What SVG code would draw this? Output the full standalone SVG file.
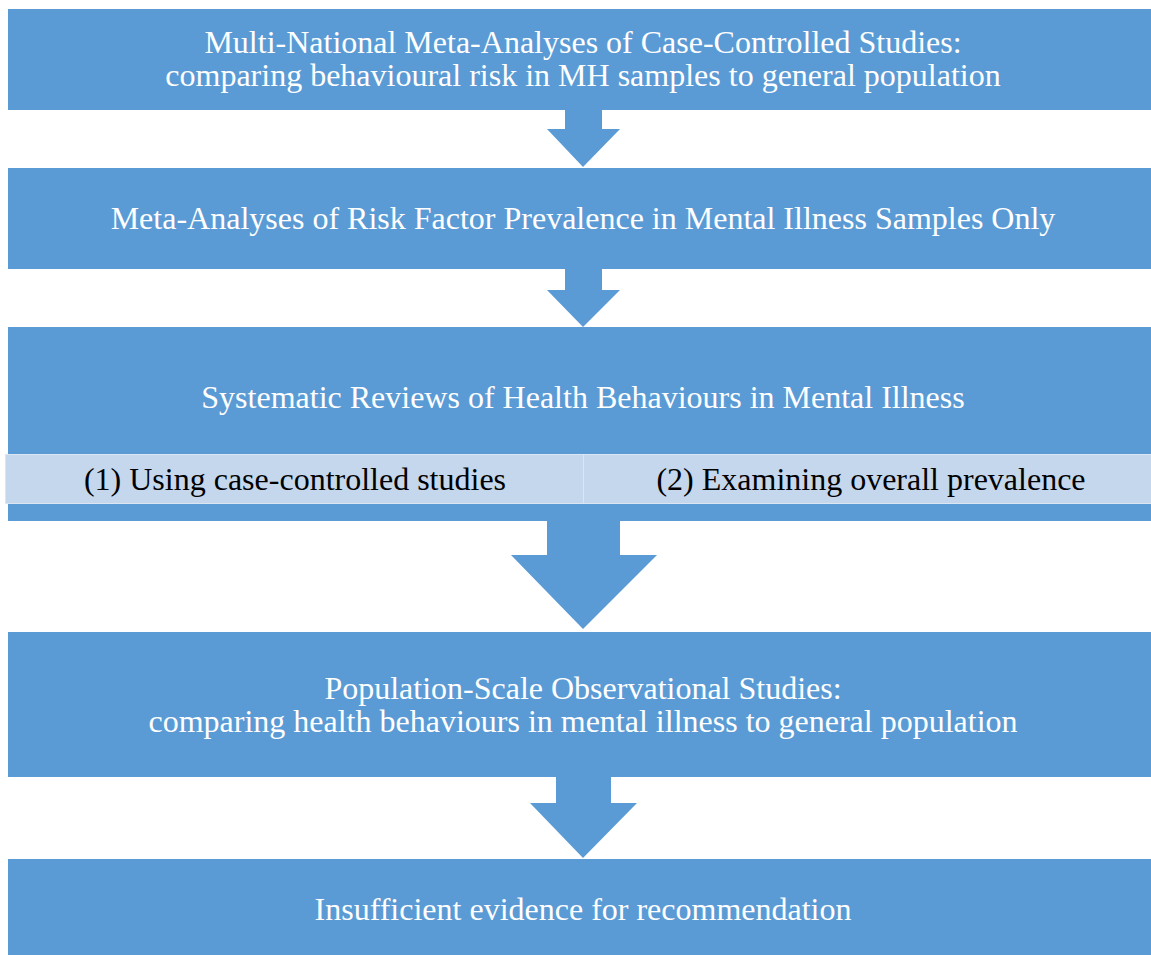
<svg xmlns="http://www.w3.org/2000/svg" width="1151" height="955" viewBox="0 0 1151 955">
<style>
.box{fill:#5B9BD5;}
.cell{fill:#C5D7EC;stroke:#DCE6F2;stroke-width:1;}
.arrow{fill:#5B9BD5;}
text{font-family:"Liberation Serif","Times New Roman",serif;font-size:32px;text-anchor:middle;}
.w{fill:#FFFFFF;}
.k{fill:#000000;}
</style>
<rect width="1151" height="955" fill="#FFFFFF"/>
<g id="connectors">
<polygon class="arrow" points="565,110 602,110 602,129 620,129 583,167 547,129 565,129"/>
<polygon class="arrow" points="565,269 602,269 602,290 620,290 583,327 547,290 565,290"/>
<polygon class="arrow" points="547,521 620,521 620,555 657,555 583,629 511,555 547,555"/>
<polygon class="arrow" points="556,777 611,777 611,803 637,803 583,858 530,803 556,803"/>
</g>
<g id="node1">
<rect class="box" x="8" y="9" width="1151" height="101"/>
<text class="w" x="583" y="53">Multi-National Meta-Analyses of Case-Controlled Studies:</text>
<text class="w" x="583" y="86">comparing behavioural risk in MH samples to general population</text>
</g>
<g id="node2">
<rect class="box" x="8" y="168" width="1151" height="101"/>
<text class="w" x="583" y="229">Meta-Analyses of Risk Factor Prevalence in Mental Illness Samples Only</text>
</g>
<g id="node3">
<rect class="box" x="8" y="327" width="1151" height="194"/>
<text class="w" x="583" y="408">Systematic Reviews of Health Behaviours in Mental Illness</text>
</g>
<g id="cell1">
<rect class="cell" x="5.5" y="454.5" width="578" height="49"/>
<text class="k" x="295" y="490">(1) Using case-controlled studies</text>
</g>
<g id="cell2">
<rect class="cell" x="583.5" y="454.5" width="576" height="49"/>
<text class="k" x="871" y="490">(2) Examining overall prevalence</text>
</g>
<g id="node4">
<rect class="box" x="8" y="632" width="1151" height="145"/>
<text class="w" x="583" y="699">Population-Scale Observational Studies:</text>
<text class="w" x="583" y="732">comparing health behaviours in mental illness to general population</text>
</g>
<g id="node5">
<rect class="box" x="8" y="859" width="1151" height="96"/>
<text class="w" x="583" y="920">Insufficient evidence for recommendation</text>
</g>
</svg>
